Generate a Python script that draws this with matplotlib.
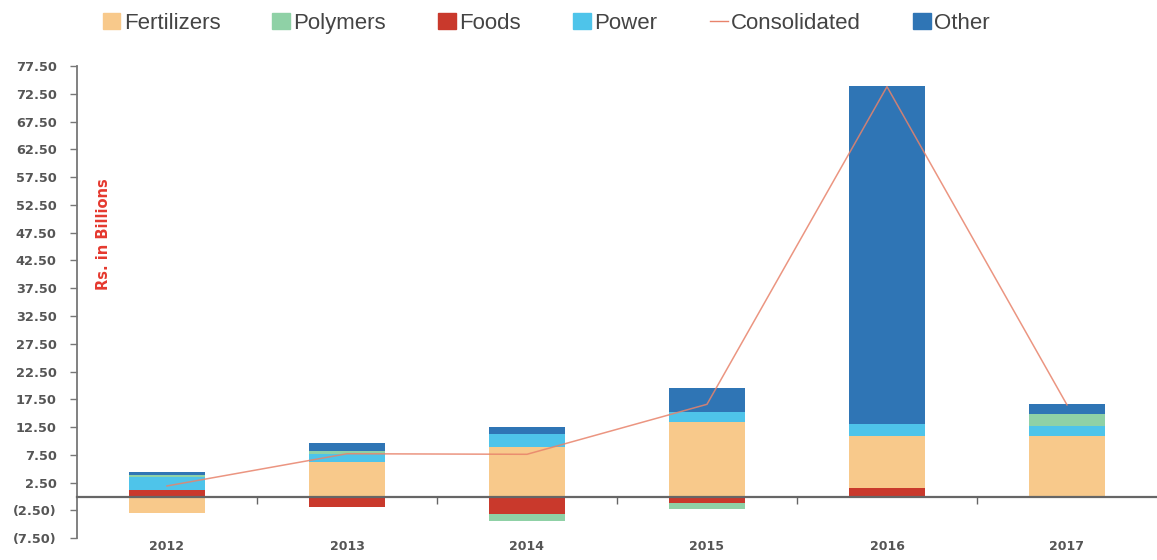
import matplotlib.pyplot as plt
import matplotlib.ticker as mticker
from matplotlib.patches import Patch
from matplotlib.lines import Line2D
import numpy as np

years = ['2012', '2013', '2014', '2015', '2016', '2017']

# Rs. in billions
fertilizers = [-3.0, 6.3, 9.0, 13.4, 9.4, 10.9]
polymers = [0.3, 0.5, -1.3, -1.0, 0.0, 2.2]
foods = [1.2, -1.8, -3.2, -1.2, 1.5, 0.0]
power = [2.4, 1.4, 2.2, 1.8, 2.2, 1.8]
other = [0.5, 1.4, 1.4, 4.3, 60.9, 1.8]
consolidated = [1.9, 7.7, 7.6, 16.6, 73.8, 16.5]

c_fert = '#f8c98b'
c_poly = '#8fd1a6'
c_food = '#c9392c'
c_power = '#4ec4ea'
c_other = '#2f75b5'
c_cons = '#e8836b'

plt.rcParams['font.family'] = ['Liberation Sans', 'DejaVu Sans']

fig = plt.figure(figsize=(11.57, 5.6), dpi=100)
ax = fig.add_axes([0.0665, 0.039, 0.9335, 0.843])

x = np.arange(len(years))
w = 0.42

# stacking order as in the source chart (foods nearest the zero line)
series = [(foods, c_food), (fertilizers, c_fert), (power, c_power),
          (polymers, c_poly), (other, c_other)]
pos_base = np.zeros(len(years))
neg_base = np.zeros(len(years))
for vals, col in series:
    v = np.array(vals)
    base = np.where(v >= 0, pos_base, neg_base)
    ax.bar(x, v, w, bottom=base, color=col, zorder=2)
    pos_base += np.where(v >= 0, v, 0)
    neg_base += np.where(v < 0, v, 0)

ax.plot(x, consolidated, color=c_cons, lw=1.1, alpha=0.85, zorder=3)

ax.set_xlim(-0.5, 5.5)
ax.set_ylim(-7.5, 77.5)
ax.set_yticks(np.arange(-7.5, 77.6, 5))


def fmt(v, pos):
    if v < 0:
        return '(%.2f)' % abs(v)
    return '%.2f' % v


ax.yaxis.set_major_formatter(mticker.FuncFormatter(fmt))
ax.tick_params(axis='y', length=5, width=1, color='#777777', pad=9.5)
for lbl in ax.get_yticklabels():
    lbl.set_fontweight('bold')
    lbl.set_fontfamily('DejaVu Sans')
    lbl.set_fontsize(9.3)
    lbl.set_color('#555555')

for s in ['top', 'right']:
    ax.spines[s].set_visible(False)
ax.spines['left'].set_color('#777777')
ax.spines['left'].set_linewidth(1.3)
ax.spines['bottom'].set_position(('data', 0))
ax.spines['bottom'].set_color('#666666')
ax.spines['bottom'].set_linewidth(1.6)
ax.spines['bottom'].set_zorder(4)

ax.set_xticks(x)
ax.set_xticklabels(years, fontweight='bold', fontsize=9, color='#555555',
                   fontfamily='DejaVu Sans')
ax.set_xticks(x[:-1] + 0.5, minor=True)
ax.tick_params(axis='x', which='major', length=0, pad=31)
ax.tick_params(axis='x', which='minor', length=5, width=1, color='#666666')

ax.text(0.025, 0.645, 'Rs. in Billions', transform=ax.transAxes, rotation=90,
        ha='center', va='center', color='#e5392f', fontsize=10.5,
        fontweight='bold', fontfamily='DejaVu Sans')

handles = [Patch(color=c_fert), Patch(color=c_poly), Patch(color=c_food),
           Patch(color=c_power), Line2D([0], [0], color=c_cons, lw=1),
           Patch(color=c_other)]
labels = ['Fertilizers', 'Polymers', 'Foods', 'Power', 'Consolidated', 'Other']
fig.legend(handles, labels, loc='center', bbox_to_anchor=(0.472, 0.958),
           ncol=6, frameon=False, fontsize=16, handlelength=0.8,
           handleheight=0.7, handletextpad=0.15, columnspacing=2.35,
           labelcolor='#444444')

fig.savefig('out.png', dpi=100)
